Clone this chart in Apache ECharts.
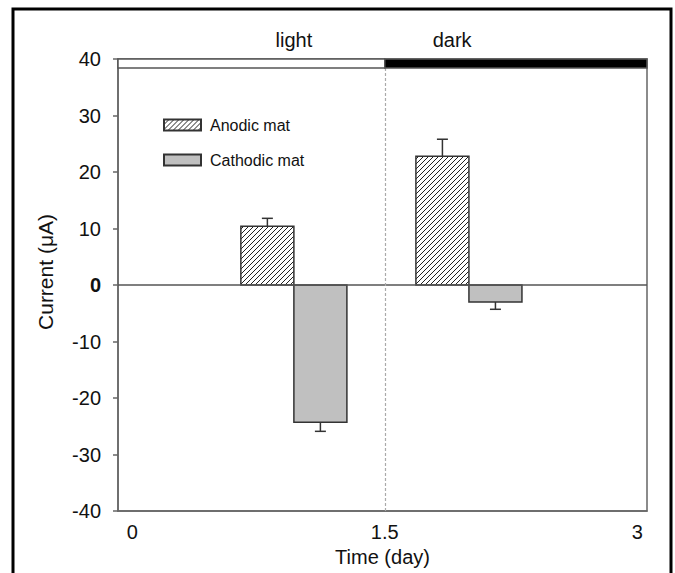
<!DOCTYPE html>
<html>
<head>
<meta charset="utf-8">
<script src="https://cdn.jsdelivr.net/npm/echarts@6/dist/echarts.min.js"></script>
<style>
  html, body { margin: 0; padding: 0; background: #fff; }
  #main { width: 675px; height: 573px; }
</style>
</head>
<body>
<div id="main"></div>
<script>
// group centres on the time axis (day)
var groupX = [0.96, 2.0]
var anodic = [10.4, 22.8]
var anodicErr = [1.4, 3.0]
var cathodic = [-24.3, -3.0]
var cathodicErr = [1.6, 1.3]
var barW = 0.315

// light / dark band on top
var periodLabel = ['light', 'dark']
var periodLabelX = [0.96, 1.9]
var periodStart = [-0.085, 1.5]
var periodEnd = [1.5, 3.058]
var periodColor = ['#ffffff', '#000000']

var xTicks = [0, 1.5, 3]
var FONT = '"Liberation Sans", Arial, sans-serif'

// hatch pattern for the anodic bars
function makeHatch() {
    var s = 5
    var c = document.createElement('canvas')
    c.width = s; c.height = s
    var ctx = c.getContext('2d')
    ctx.fillStyle = '#fff'
    ctx.fillRect(0, 0, s, s)
    ctx.strokeStyle = '#222'
    ctx.lineWidth = 1
    ctx.beginPath()
    ctx.moveTo(0, s); ctx.lineTo(s, 0)
    ctx.moveTo(-1, 1); ctx.lineTo(1, -1)
    ctx.moveTo(s - 1, s + 1); ctx.lineTo(s + 1, s - 1)
    ctx.stroke()
    return { image: c, repeat: 'repeat' }
}
var hatch = makeHatch()

function barData(vals, errs, shift) {
    return groupX.map(function (x, i) { return [x + shift, vals[i], errs[i]] })
}

function renderBar(fill) {
    return function (params, api) {
        var x = api.value(0), y = api.value(1), e = api.value(2)
        var p0 = api.coord([x - barW / 2, 0])
        var p1 = api.coord([x + barW / 2, y])
        var sign = y >= 0 ? 1 : -1
        var pe = api.coord([x, y + sign * e])
        var cap = 5.5
        var ls = { stroke: '#333', lineWidth: 1.5 }
        return {
            type: 'group',
            children: [
                { type: 'line', shape: { x1: pe[0], y1: p1[1], x2: pe[0], y2: pe[1] }, style: ls },
                { type: 'line', shape: { x1: pe[0] - cap, y1: pe[1], x2: pe[0] + cap, y2: pe[1] }, style: ls },
                {
                    type: 'rect',
                    shape: { x: p0[0], y: Math.min(p0[1], p1[1]), width: p1[0] - p0[0], height: Math.abs(p1[1] - p0[1]) },
                    style: { fill: fill, stroke: '#333', lineWidth: 1.5 }
                }
            ]
        }
    }
}

var myChart = echarts.init(document.getElementById('main'), null, { renderer: 'svg' })

let option = {
    backgroundColor: '#fff',
    animation: false,
    textStyle: { fontFamily: FONT },
    graphic: [{
        type: 'rect',
        shape: { x: 13, y: 9, width: 658, height: 600 },
        style: { fill: 'none', stroke: '#000', lineWidth: 3 },
        z: 100
    }],
    grid: {
        left: 118, right: 28, top: 59, bottom: 62,
        show: true, borderColor: '#666', borderWidth: 1.5
    },
    legend: {
        left: 163, top: 117,
        padding: 0,
        orient: 'vertical',
        itemWidth: 37, itemHeight: 11, itemGap: 19,
        icon: 'rect',
        textStyle: { fontSize: 16, color: '#111', fontFamily: FONT, padding: [0, 0, 0, 4] },
        data: ['Anodic mat', 'Cathodic mat']
    },
    xAxis: {
        type: 'value',
        min: periodStart[0], max: periodEnd[1],
        name: 'Time (day)', nameLocation: 'middle', nameGap: 33,
        nameTextStyle: { fontSize: 20, color: '#111', fontFamily: FONT },
        axisLine: { onZero: false, lineStyle: { color: '#666', width: 1.5 } },
        axisTick: { show: false },
        splitLine: { show: false },
        axisLabel: {
            customValues: xTicks,
            fontSize: 20, color: '#111', margin: 11,
            formatter: function (v) { return String(v) }
        }
    },
    yAxis: {
        type: 'value',
        min: -40, max: 40, interval: 10,
        name: 'Current (μA)', nameLocation: 'middle', nameGap: 62,
        nameTextStyle: { fontSize: 21, color: '#111', fontFamily: FONT, padding: [0, 0, 0, 26] },
        axisLine: { show: true, onZero: false, lineStyle: { color: '#666', width: 1.5 } },
        axisTick: { show: true, length: 5, lineStyle: { color: '#666', width: 1.5 } },
        splitLine: { show: false },
        axisLabel: {
            fontSize: 20, color: '#111', margin: 17,
            formatter: function (v) { return v === 0 ? '{b|0}' : String(v) },
            rich: { b: { fontWeight: 'bold', fontSize: 20, color: '#111', fontFamily: FONT } }
        }
    },
    series: [
        {
            name: 'Anodic mat',
            type: 'custom',
            itemStyle: { color: hatch, borderColor: '#333', borderWidth: 1 },
            data: barData(anodic, anodicErr, -barW / 2),
            renderItem: renderBar(hatch),
            z: 3,
            markLine: {
                silent: true, symbol: 'none', label: { show: false },
                data: [
                    { yAxis: 0, lineStyle: { color: '#555', width: 1.5, type: 'solid' } },
                    { xAxis: 1.5, lineStyle: { color: '#aaa', width: 1.2, type: [3, 2] } }
                ]
            }
        },
        {
            name: 'Cathodic mat',
            type: 'custom',
            itemStyle: { color: '#c0c0c0', borderColor: '#333', borderWidth: 1 },
            data: barData(cathodic, cathodicErr, barW / 2),
            renderItem: renderBar('#c0c0c0'),
            z: 3
        },
        {
            // light/dark band plus its labels
            name: 'period',
            type: 'custom',
            silent: true,
            z: 10,
            data: periodLabel.map(function (l, i) { return [periodStart[i], periodEnd[i], periodLabelX[i], i] }),
            renderItem: function (params, api) {
                var i = api.value(3)
                var a = api.coord([api.value(0), 40])
                var b = api.coord([api.value(1), 38.4])
                var t = api.coord([api.value(2), 40])
                return {
                    type: 'group',
                    children: [
                        {
                            type: 'rect',
                            shape: { x: a[0], y: a[1], width: b[0] - a[0], height: b[1] - a[1] },
                            style: { fill: periodColor[i], stroke: '#555', lineWidth: 1.5 }
                        },
                        {
                            type: 'text',
                            style: {
                                text: periodLabel[i], x: t[0], y: t[1] - 19,
                                fontSize: 20, fontFamily: FONT, fill: '#111',
                                align: 'center', verticalAlign: 'middle'
                            }
                        }
                    ]
                }
            }
        }
    ]
}
myChart.setOption(option)
</script>
</body>
</html>
